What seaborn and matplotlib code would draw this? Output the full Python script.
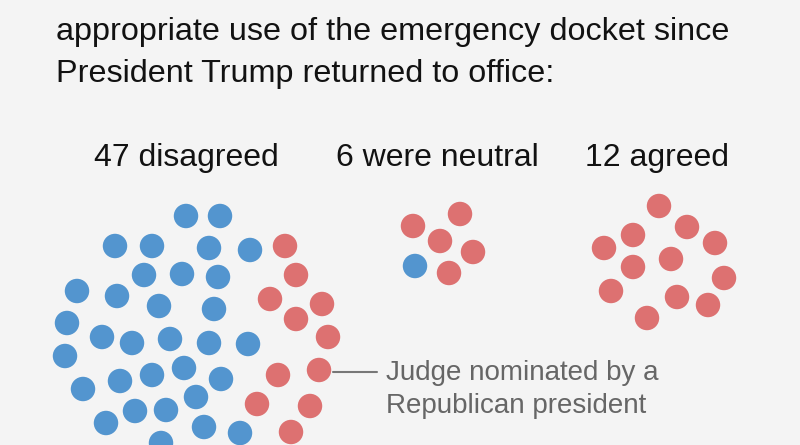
import pandas as pd
import seaborn as sns
import matplotlib.pyplot as plt

sns.set_style("white")
plt.rcParams['font.family'] = ['Liberation Sans', 'DejaVu Sans']

# dot positions (pixels, y downward)
disagreed_x = [186, 220, 115, 152, 209, 250, 144, 182, 218, 77, 117, 159, 214, 67, 102, 132,
               170, 209, 248, 65, 120, 152, 184, 221, 83, 196, 135, 166, 106, 204, 240, 161,
               130, 190, 230, 270,
               285, 296, 270, 322, 296, 328, 319, 278, 257, 310, 291]
disagreed_y = [216, 216, 246, 246, 248, 250, 275, 274, 277, 291, 296, 306, 309, 323, 337, 343,
               339, 343, 344, 356, 381, 375, 368, 379, 389, 397, 411, 410, 423, 427, 433, 443,
               470, 465, 468, 462,
               246, 275, 299, 304, 319, 337, 370, 375, 404, 406, 432]
disagreed_party = ['Democratic'] * 36 + ['Republican'] * 11

neutral_x = [460, 413, 440, 473, 415, 449]
neutral_y = [214, 226, 241, 252, 266, 273]
neutral_party = ['Republican', 'Republican', 'Republican', 'Republican', 'Democratic', 'Republican']

agreed_x = [659, 687, 633, 715, 604, 671, 633, 724, 611, 677, 708, 647]
agreed_y = [206, 227, 235, 243, 248, 259, 267, 278, 291, 297, 305, 318]
agreed_party = ['Republican'] * 12

groups = ['47 disagreed', '6 were neutral', '12 agreed']
group_x = [186, 437, 657]

df = pd.DataFrame({
    'x': disagreed_x + neutral_x + agreed_x,
    'y': disagreed_y + neutral_y + agreed_y,
    'party': disagreed_party + neutral_party + agreed_party,
})

fig = plt.figure(figsize=(8, 4.45), dpi=100, facecolor='#f4f4f4')
ax = fig.add_axes([0, 0, 1, 1])
ax.set_facecolor('#f4f4f4')

sns.scatterplot(data=df, x='x', y='y', hue='party',
                palette={'Democratic': '#5395cf', 'Republican': '#dd7171'},
                s=310, linewidth=0, legend=False, ax=ax)

ax.set_xlim(0, 800)
ax.set_ylim(445, 0)
ax.axis('off')

ax.text(56, 40, 'appropriate use of the emergency docket since', fontsize=23.3,
        color='#121212', va='baseline')
ax.text(56, 82, 'President Trump returned to office:', fontsize=23.3,
        color='#121212', va='baseline')

for g, gx in zip(groups, group_x):
    ax.text(gx, 166, g, fontsize=23, color='#121212', ha='center', va='baseline')

ax.plot([333, 377], [372, 372], color='#777777', lw=1.5)
ax.text(386, 380, 'Judge nominated by a', fontsize=20, color='#666666', va='baseline')
ax.text(386, 413, 'Republican president', fontsize=20, color='#666666', va='baseline')

fig.savefig('out.png', dpi=100, facecolor=fig.get_facecolor())
